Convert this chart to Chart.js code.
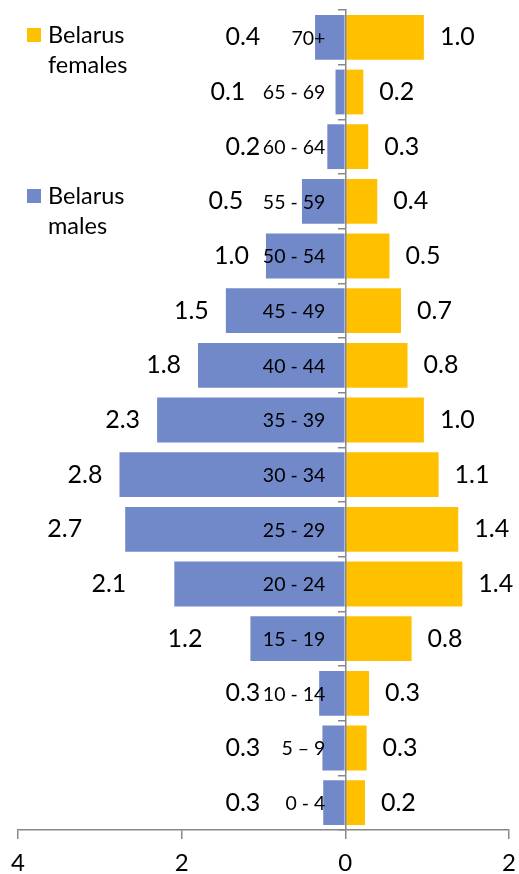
<!DOCTYPE html>
<html>
<head>
<meta charset="utf-8">
<script src="https://cdn.jsdelivr.net/npm/chart.js@4.4.1/dist/chart.umd.min.js"></script>
<style>
  html, body { margin: 0; padding: 0; background: #fff; overflow: hidden; }
  #caja { width: 519px; height: 874px; position: relative; }
</style>
</head>
<body>
<div id="caja"><canvas id="grafico"></canvas></div>
<script>
// Datos //
const grupos = ["70+", "65 - 69", "60 - 64", "55 - 59", "50 - 54", "45 - 49", "40 - 44", "35 - 39",
  "30 - 34", "25 - 29", "20 - 24", "15 - 19", "10 - 14", "5 \u2013 9", "0 - 4"];
const mujeres = [0.96, 0.22, 0.28, 0.39, 0.54, 0.68, 0.76, 0.96, 1.14, 1.38, 1.43, 0.81, 0.29, 0.26, 0.24];
const hombres = [0.37, 0.12, 0.22, 0.53, 0.97, 1.46, 1.80, 2.30, 2.76, 2.69, 2.09, 1.16, 0.32, 0.28, 0.27];
const ejeTicks = [-4, -2, 0, 2];

// Grupos de edad pegados al eje cero, encima de las barras //
const etiquetasGrupos = {
  id: "etiquetasGrupos",
  afterDatasetsDraw(chart) {
    const ctx = chart.ctx;
    const escalaY = chart.scales.y;
    const cero = chart.scales.x.getPixelForValue(0);
    ctx.save();
    ctx.font = "19.5px Lato";
    ctx.fillStyle = "#000";
    ctx.textAlign = "right";
    ctx.textBaseline = "middle";
    chart.data.labels.forEach((grupo, i) => {
      ctx.fillText(grupo, cero - 20, escalaY.getPixelForValue(i) + 1);
    });
    ctx.restore();
  }
};

// Etiquetas de valores junto a las barras //
const etiquetasValores = {
  id: "etiquetasValores",
  afterDraw(chart, args, opciones) {
    const ctx = chart.ctx;
    const cero = chart.scales.x.getPixelForValue(0);
    const ajustes = opciones.ajustes || {};
    ctx.save();
    ctx.font = "25px Lato";
    ctx.fillStyle = "#000";
    ctx.textBaseline = "middle";
    chart.data.datasets.forEach((ds, i) => {
      const meta = chart.getDatasetMeta(i);
      meta.data.forEach((barra, j) => {
        const texto = Math.abs(ds.data[j]).toFixed(1);
        if (ds.data[j] < 0) {
          const extra = ajustes[chart.data.labels[j]] || 0;
          ctx.textAlign = "right";
          ctx.fillText(texto, Math.min(barra.x - 17, cero - 85) - extra, barra.y);
        } else {
          ctx.textAlign = "left";
          ctx.fillText(texto, barra.x + 16, barra.y);
        }
      });
    });
    ctx.restore();
  }
};

// Leyenda a la izquierda //
const leyenda = {
  id: "leyenda",
  afterDraw(chart) {
    const ctx = chart.ctx;
    const filas = [28, 189];
    ctx.save();
    ctx.font = "23.5px Lato";
    ctx.textBaseline = "alphabetic";
    ctx.textAlign = "left";
    chart.data.datasets.forEach((ds, i) => {
      const y = filas[i];
      ctx.fillStyle = ds.backgroundColor;
      ctx.fillRect(27, y, 14, 14);
      ctx.fillStyle = "#000";
      ds.label.split(" ").forEach((palabra, k) => ctx.fillText(palabra, 48, y + 14.5 + k * 30));
    });
    ctx.restore();
  }
};

new Chart(document.getElementById("grafico"), {
  type: "bar",
  data: {
    labels: grupos,
    datasets: [
      { label: "Belarus females", data: mujeres, backgroundColor: "#FFC000" },
      { label: "Belarus males", data: hombres.map(v => -v), backgroundColor: "#7189C8" }
    ]
  },
  options: {
    indexAxis: "y",
    responsive: true,
    maintainAspectRatio: false,
    animation: false,
    layout: { autoPadding: false, padding: { left: 18, right: 10, top: 10, bottom: -13 } },
    datasets: { bar: { barPercentage: 0.82, categoryPercentage: 1 } },
    plugins: {
      legend: { display: false },
      tooltip: { enabled: false },
      // etiquetas de hombres movidas a mano en el original //
      etiquetasValores: { ajustes: { "65 - 69": 15, "55 - 59": 17, "25 - 29": 26, "20 - 24": 31, "15 - 19": 31 } }
    },
    scales: {
      x: {
        stacked: true,
        min: -4,
        max: 2,
        afterBuildTicks: (eje) => { eje.ticks = ejeTicks.map(v => ({ value: v })); },
        afterFit: (eje) => { eje.paddingLeft = 0; eje.paddingRight = 0; },
        grid: { drawOnChartArea: false, drawTicks: true, tickLength: 9, color: "#888", lineWidth: 1.5 },
        border: { color: "#888", width: 1.5 },
        ticks: {
          callback: v => Math.abs(v),
          color: "#000",
          font: { family: "Lato", size: 24, lineHeight: 1 },
          padding: 12,
          maxRotation: 0
        }
      },
      y: {
        stacked: true,
        position: { x: 0 },
        grid: { offset: true, drawOnChartArea: false, drawTicks: true, tickLength: 7, color: "#888", lineWidth: 1.5, z: 1 },
        border: { color: "#888", width: 1.5, z: 1 },
        ticks: { display: false, autoSkip: false }
      }
    }
  },
  plugins: [etiquetasGrupos, etiquetasValores, leyenda]
});
</script>
</body>
</html>
